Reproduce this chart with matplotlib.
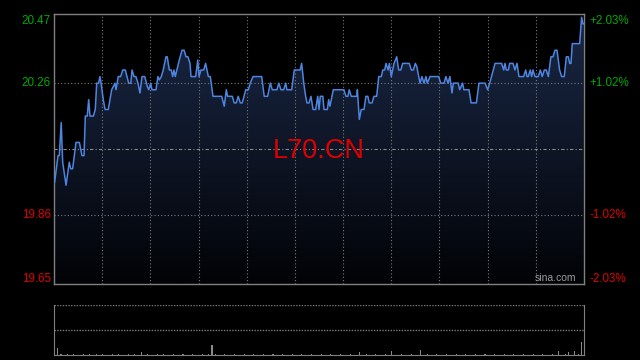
import numpy as np
import matplotlib
matplotlib.use("Agg")
from matplotlib import pyplot as plt
from matplotlib.patches import Polygon

# intraday price, minutes from open / price
t = [0.4, 2.5, 3.3, 4.5, 5.4, 7.5, 9.5, 10.4, 11.6, 13.7, 15.8, 17.4, 18.7, 19.5, 20.7,
     21.6, 22.4, 24.5, 25.7, 26.6, 27.8, 28.6, 29.3, 30.7, 31.8, 33.8, 35.9, 38.0, 38.6,
     40.0, 41.5, 42.8, 44.4, 46.5, 47.8, 48.6, 49.8, 51.0, 52.3, 53.5, 54.8, 56.5, 58.1,
     59.0, 60.2, 61.0, 63.5, 64.7, 65.6, 66.8, 68.0, 69.7, 70.5, 71.8, 73.0, 73.9, 74.7,
     75.5, 78.0, 79.7, 81.0, 82.2, 83.4, 84.7,
     85.3, 88.2, 89.5, 90.3, 91.5, 93.2, 94.4, 96.1, 97.3, 99.0, 104.4, 106.0, 107.3,
     108.1, 111.0, 112.2, 113.5, 114.7, 116.0, 117.2, 119.4, 121.0, 122.2, 123.9, 129.3,
     130.9, 133.0, 134.7, 135.9, 138.8, 140.0, 141.3, 143.0, 144.3, 145.0, 148.0, 149.6,
     153.3, 154.2, 155.5, 156.7, 157.5, 158.8, 160.0, 161.3, 162.9, 164.2, 165.0, 165.8,
     167.4, 168.1, 170.2, 171.0, 171.8, 173.9, 180.5, 181.8, 183.0, 183.8, 185.1, 188.5,
     188.9, 190.1, 191.3, 193.0, 194.2, 195.4, 196.3, 198.0, 199.2, 200.9, 202.2, 203.8,
     204.7, 205.9, 206.7, 208.0, 208.8, 210.0, 211.7, 213.4, 214.6, 215.9, 217.1, 221.2,
     222.5, 223.7, 225.0, 225.9, 227.9, 229.1, 230.4, 231.6, 232.4, 234.1, 239.5, 240.8,
     242.8, 244.0, 245.3, 246.5, 247.8, 248.6, 249.9, 251.7, 252.6, 254.4, 255.2, 258.4,
     259.7, 263.0, 264.6, 268.4, 270.0, 271.3, 274.6, 278.7, 280.0, 280.8, 281.6, 282.9,
     283.7, 285.8, 287.0, 288.3, 289.5, 292.4, 293.7, 294.5, 295.3, 296.5, 297.4, 298.2,
     299.5, 301.5, 302.8, 304.0, 305.3, 306.5, 307.8, 309.4, 310.7, 311.9, 313.2, 314.8,
     316.1, 317.7, 319.0, 320.2, 321.1, 321.9, 322.7, 327.3, 328.5, 329.4, 329.8]
price = [19.96, 20.04, 20.04, 20.14, 20.02, 19.95, 20.02, 20.00, 20.00, 20.08, 20.08, 20.04, 20.04, 20.16, 20.16,
         20.21, 20.16, 20.16, 20.18, 20.26, 20.26, 20.28, 20.26, 20.21, 20.18, 20.18, 20.24, 20.26, 20.24,
         20.28, 20.28, 20.30, 20.30, 20.26, 20.26, 20.30, 20.28, 20.28, 20.26, 20.23, 20.28, 20.28, 20.25,
         20.24, 20.26, 20.24, 20.24, 20.28, 20.27, 20.28, 20.30, 20.34, 20.34, 20.30, 20.30, 20.28, 20.30,
         20.28, 20.33, 20.36, 20.36, 20.34, 20.34, 20.32,
         20.28, 20.28, 20.33, 20.28, 20.30, 20.30, 20.32, 20.28, 20.28, 20.22, 20.22, 20.19, 20.24,
         20.22, 20.22, 20.20, 20.20, 20.22, 20.20, 20.20, 20.24, 20.24, 20.26, 20.28, 20.28,
         20.22, 20.22, 20.26, 20.24, 20.24, 20.26, 20.24, 20.24, 20.26, 20.24, 20.24, 20.30,
         20.30, 20.32, 20.26, 20.22, 20.20, 20.20, 20.22, 20.18, 20.18, 20.22, 20.18, 20.22,
         20.22, 20.18, 20.18, 20.21, 20.19, 20.24, 20.24, 20.22, 20.22, 20.24, 20.22, 20.22,
         20.24, 20.15, 20.18, 20.18, 20.22, 20.22, 20.20, 20.20, 20.22, 20.22, 20.28, 20.28,
         20.30, 20.30, 20.32, 20.30, 20.32, 20.28, 20.32, 20.34, 20.30, 20.30, 20.32, 20.32,
         20.30, 20.30, 20.32, 20.31, 20.26, 20.28, 20.26, 20.28, 20.26, 20.28, 20.28, 20.26,
         20.26, 20.28, 20.26, 20.28, 20.23, 20.26, 20.26, 20.26, 20.24, 20.26, 20.24, 20.24,
         20.20, 20.20, 20.26, 20.26, 20.24, 20.26, 20.32, 20.32, 20.30, 20.32, 20.30, 20.30,
         20.32, 20.32, 20.30, 20.32, 20.28, 20.28, 20.30, 20.28, 20.28, 20.30, 20.28, 20.30,
         20.28, 20.28, 20.30, 20.28, 20.30, 20.30, 20.28, 20.34, 20.34, 20.36, 20.36, 20.30,
         20.28, 20.28, 20.34, 20.34, 20.32, 20.32, 20.38, 20.38, 20.46, 20.44, 20.44]

prev_close = 20.06
y_ticks = [20.47, 20.26, 19.86, 19.65]
pct_labels = ["+2.03%", "+1.02%", "-1.02%", "-2.03%"]

# volume, one bar every 2 minutes
vol = [8, 14, 2, 1, 2, 1, 2, 1, 1, 2,
       1, 2, 1, 3, 1, 2, 1, 1, 2, 1,
       2, 1, 1, 2, 1, 2, 1, 6, 1, 2,
       1, 1, 2, 1, 2, 1, 1, 2, 1, 1,
       2, 1, 1, 2, 1, 1, 2, 1, 3, 20,
       2, 1, 1, 2, 1, 1, 2, 1, 1, 2,
       1, 1, 2, 1, 1, 2, 1, 1, 2, 1,
       1, 2, 1, 1, 2, 1, 1, 2, 1, 1,
       2, 1, 1, 2, 1, 1, 2, 1, 1, 2,
       1, 1, 2, 1, 1, 6, 1, 2, 1, 1,
       2, 1, 1, 2, 1, 8, 1, 1, 2, 1,
       1, 2, 1, 1, 10, 1, 2, 1, 1, 2,
       1, 1, 2, 1, 1, 2, 1, 1, 2, 1,
       1, 2, 1, 1, 2, 1, 1, 2, 1, 1,
       2, 1, 1, 2, 1, 1, 2, 1, 1, 2,
       1, 1, 2, 1, 1, 2, 1, 8, 1, 2,
       6, 1, 8, 2, 26, 2]
vol_t = np.arange(len(vol)) * 2.0

grid_c = "#7a7a7a"
green = "#00a800"
red = "#e00000"

fig = plt.figure(figsize=(6.4, 3.6), dpi=100, facecolor="black")
ax = fig.add_axes([54/640, 1-284/360, 530/640, 270/360], facecolor="black")
ax.set_xlim(0, 330)
ax.set_ylim(19.65, 20.47)

# gradient fill under the line
tt = [t[0]] + t + [t[-1]]
pp = [19.65] + price + [19.65]
poly = Polygon(list(zip(tt, pp)), closed=True, facecolor="none", edgecolor="none")
ax.add_patch(poly)
grad = np.linspace(1, 0, 256).reshape(-1, 1)
top = np.array([26, 40, 70]) / 255
bot = np.array([2, 3, 6]) / 255
img = bot + (top - bot) * grad[:, :, None]
im = ax.imshow(img, extent=[0, 330, 19.65, 20.47], aspect="auto", origin="upper", zorder=1)
im.set_clip_path(poly)

for v in range(30, 330, 30):
    ax.axvline(v, color=grid_c, lw=0.8, ls=(0, (1, 2)), zorder=2)
for v in [20.26, 19.86]:
    ax.axhline(v, color=grid_c, lw=0.8, ls=(0, (1, 2)), zorder=2)
ax.axhline(prev_close, color="#8a8a8a", lw=0.8, ls=(0, (3, 2, 1, 2)), zorder=2)

ax.plot(t, price, color="#4d85e0", lw=1.1, zorder=3)

for s in ax.spines.values():
    s.set_color("#808080")
    s.set_linewidth(1)
ax.set_xticks([])
ax.set_yticks([])

font = "Liberation Sans"
vas = ["top", "center", "center", "bottom"]
offs = [-0.004, 0, 0, -0.002]
for v, lab, va, o in zip(y_ticks, pct_labels, vas, offs):
    c = green if v > prev_close else red
    ax.text(-0.006, v + o, f"{v:.2f}", transform=ax.get_yaxis_transform(), ha="right", va=va,
            color=c, fontsize=8.4, family=font)
    ax.text(1.011, v + o, lab, transform=ax.get_yaxis_transform(), ha="left", va=va,
            color=c, fontsize=8.4, family=font)

ax.text(0.5, 0.492, "L70.CN", transform=ax.transAxes, ha="center", va="center",
        color=red, fontsize=19.5, family=font, zorder=4)
ax.text(0.985, 0.005, "sina.com", transform=ax.transAxes, ha="right", va="bottom",
        color="#9a9a9a", fontsize=7.5, family=font, zorder=4)

# volume panel
vax = fig.add_axes([54/640, 5/360, 530/640, 50/360], facecolor="black")
vax.set_xlim(0, 330)
vax.set_ylim(0, 100)
vax.bar(vol_t, vol, width=0.7, color="#8a8a8a", align="edge")
vax.axhline(100, color=grid_c, lw=1, ls=(0, (1, 1)))
vax.axhline(50, color=grid_c, lw=1, ls=(0, (1, 1)))
vax.spines["top"].set_visible(False)
for k in ["left", "right", "bottom"]:
    vax.spines[k].set_color("#808080")
vax.set_xticks([])
vax.set_yticks([])

fig.savefig("out.png", dpi=100, facecolor="black")
